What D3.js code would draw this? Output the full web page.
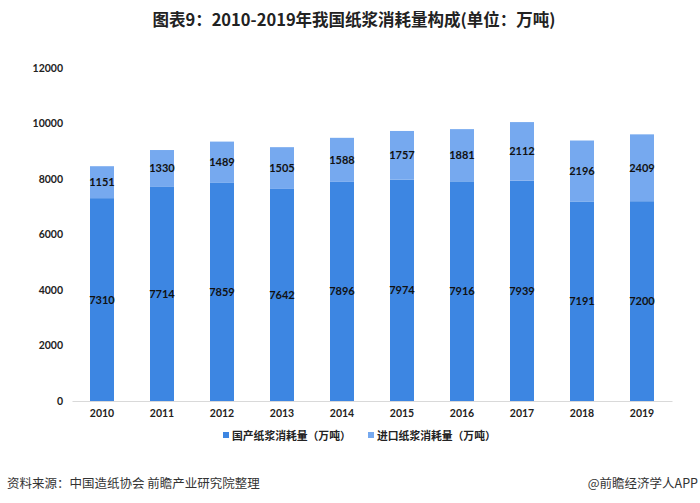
<!DOCTYPE html>
<html><head><meta charset="utf-8">
<script src="https://cdn.jsdelivr.net/npm/d3@7"></script>
<style>body{margin:0;background:#fff;} svg{display:block;}</style>
</head><body>
<svg id="c" width="700" height="503"></svg>
<script>
const years = ["2010","2011","2012","2013","2014","2015","2016","2017","2018","2019"];
const domestic = [7310,7714,7859,7642,7896,7974,7916,7939,7191,7200];
const imported = [1151,1330,1489,1505,1588,1757,1881,2112,2196,2409];
const yTicks = [0,2000,4000,6000,8000,10000,12000];
const seriesNames = ["国产纸浆消耗量（万吨）","进口纸浆消耗量（万吨）"];
const colors = ["#3d86e2","#76a9ef"];

const svg = d3.select("#c");
const cjk = "'Noto Sans CJK SC','Noto Sans',sans-serif";
const num = "Lato,'DejaVu Sans',sans-serif";

svg.append("text").attr("x",354).attr("y",26).attr("text-anchor","middle")
  .attr("font-family",cjk).attr("font-weight","bold").attr("font-size",16.5).attr("fill","#222")
  .text("图表9：2010-2019年我国纸浆消耗量构成(单位：万吨)");

const x = d3.scaleBand().domain(years).range([72,672]).paddingInner(0.6).paddingOuter(0.3);
const y = d3.scaleLinear().domain([0,12000]).range([401,68]);

const data = years.map((yr,i)=>({year:yr, domestic:domestic[i], imported:imported[i]}));
const stack = d3.stack().keys(["domestic","imported"])(data);

const g = svg.append("g");
stack.forEach((s,si)=>{
  g.selectAll(null).data(s).enter().append("rect")
    .attr("x",d=>x(d.data.year)).attr("width",x.bandwidth())
    .attr("y",d=>y(d[1])).attr("height",d=>y(d[0])-y(d[1]))
    .attr("fill",colors[si]);
});
const xAxis = d3.axisBottom(x).tickSize(0).tickPadding(9);
const xg = svg.append("g").attr("transform","translate(0,401)").call(xAxis);
xg.select(".domain").attr("stroke","#d9d9d9").attr("stroke-width",1);
xg.selectAll("text").attr("font-family",num).attr("font-weight","bold").attr("font-size",10.5).attr("fill","#222");

const yAxis = d3.axisLeft(y).tickValues(yTicks).tickSize(0).tickPadding(0).tickFormat(d3.format("d"));
const yg = svg.append("g").attr("transform","translate(63,0)").call(yAxis);
yg.select(".domain").remove();
yg.selectAll("text").attr("font-family",num).attr("font-weight","bold").attr("font-size",10.5).attr("fill","#222");

stack.forEach((s)=>{
  g.selectAll(null).data(s).enter().append("text")
    .attr("x",d=>x(d.data.year)+x.bandwidth()/2)
    .attr("y",d=>(y(d[0])+y(d[1]))/2+4)
    .attr("text-anchor","middle").attr("font-family",num).attr("font-weight","bold")
    .attr("font-size",11).attr("fill","#111")
    .text(d=>d[1]-d[0]);
});

const lx = [223,368];
seriesNames.forEach((n,i)=>{
  svg.append("rect").attr("x",lx[i]).attr("y",432).attr("width",6).attr("height",6).attr("fill",colors[i]);
  svg.append("text").attr("x",lx[i]+9).attr("y",439.5).attr("font-family",cjk).attr("font-weight","bold")
    .attr("font-size",10.8).attr("fill","#222").text(n);
});

svg.append("text").attr("x",7).attr("y",488).attr("font-family",cjk).attr("font-size",12.5).attr("fill","#333")
  .text("资料来源：中国造纸协会 前瞻产业研究院整理");
svg.append("text").attr("x",698).attr("y",488).attr("text-anchor","end").attr("font-family",cjk).attr("font-size",12.5).attr("fill","#333")
  .text("@前瞻经济学人APP");
</script>
</body></html>
